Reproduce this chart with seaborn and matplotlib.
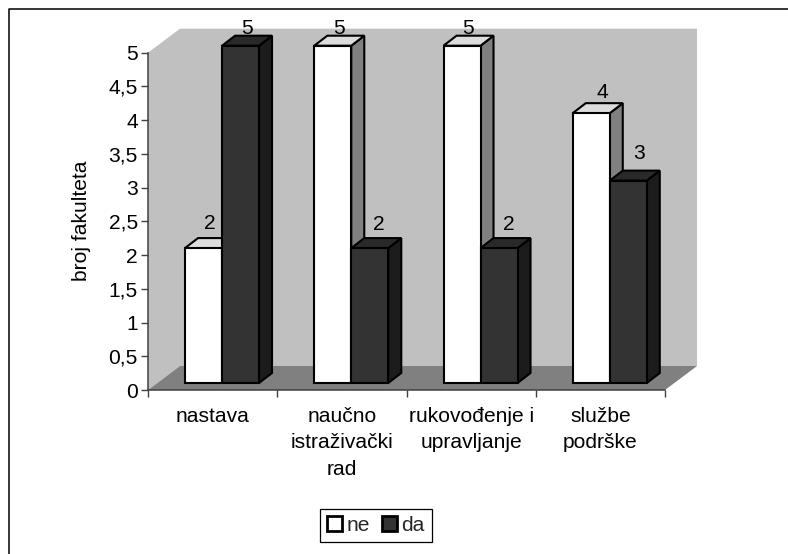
import matplotlib
matplotlib.use("Agg")
import matplotlib.pyplot as plt
import pandas as pd
import seaborn as sns
from matplotlib.lines import Line2D
from matplotlib.patches import Polygon
from matplotlib.transforms import Affine2D

categories = ["nastava", "naučno\nistraživački\nrad", "rukovođenje i\nupravljanje", "službe\npodrške"]
ne_values = [2, 5, 5, 4]
da_values = [5, 2, 2, 3]
series_names = ["ne", "da"]
y_ticks = [0, 0.5, 1, 1.5, 2, 2.5, 3, 3.5, 4, 4.5, 5]
y_tick_labels = ["0", "0,5", "1", "1,5", "2", "2,5", "3", "3,5", "4", "4,5", "5"]

df = pd.DataFrame({
    "kategorija": categories * 2,
    "broj": ne_values + da_values,
    "odgovor": ["ne"] * 4 + ["da"] * 4,
})

sns.set_theme(style="white")
plt.rcParams["font.family"] = ["Liberation Sans", "DejaVu Sans"]
FS = 15.1

W, H = 788, 554
fig = plt.figure(figsize=(W / 100, H / 100), dpi=100, facecolor="white")
ax = fig.add_axes([148 / W, (H - 390) / H, 517 / W, 337.3 / H])
ax.patch.set_visible(False)

face = {"ne": "#FFFFFF", "da": "#333333"}
side = {"ne": "#808080", "da": "#1C1C1C"}
top = {"ne": "#DDDDDD", "da": "#292929"}

sns.barplot(data=df, x="kategorija", y="broj", hue="odgovor", hue_order=series_names,
            order=categories, palette=face, width=0.5725, gap=0, dodge=True,
            saturation=1, edgecolor="black", linewidth=1.5, ax=ax, legend=True)
handles, labels = ax.get_legend_handles_labels()
ax.get_legend().remove()

ax.set_xlim(-0.5, 3.5)
ax.set_ylim(0, 5)
px = 1 / (517 / 4)
py = 5 / 337.3

# walls and floor of the 3D box
bx, by = 32 * px, 24 * py
ax.add_patch(Polygon([(-0.5, 0), (-0.5 + bx, by), (-0.5 + bx, 5 + by), (3.5 + bx, 5 + by), (3.5 + bx, by),
                      (-0.5 + bx, by)], closed=True, fc="#C0C0C0", ec="none", zorder=0.5, clip_on=False))
ax.add_patch(Polygon([(-0.5, 0), (-0.5, 5), (-0.5 + bx, 5 + by), (-0.5 + bx, by)], closed=True,
                     fc="#C0C0C0", ec="none", zorder=0.5, clip_on=False))
ax.add_patch(Polygon([(-0.5, 0), (-0.5 + bx, by), (3.5 + bx, by), (3.5, 0)], closed=True,
                     fc="#808080", ec="none", zorder=0.6, clip_on=False))

# bars moved into the box, with top and side faces
sx, sy = 9.4 * px, 7 * py
dx, dy = 13 * px, 10 * py
lift = {"ne": [9, 2, 2, 5], "da": [2, 8, 8, 12]}
nudge = {"ne": [-0.7, 0, 0, 4.5], "da": [0, 3, 3, 4.5]}
shift = Affine2D().translate(sx, sy) + ax.transData
z = 1.0
for cat in range(4):
    for s, cont in enumerate(ax.containers[:2]):
        name = series_names[s]
        bar = cont[cat]
        x0, w, h = bar.get_x(), bar.get_width(), bar.get_height()
        x1 = x0 + w
        bar.set_transform(shift)
        bar.set_clip_on(False)
        bar.set_joinstyle("miter")
        ax.add_patch(Polygon([(x1, 0), (x1 + dx, dy), (x1 + dx, h + dy), (x1, h)], closed=True, transform=shift,
                             fc=side[name], ec="black", lw=1.5, zorder=z, clip_on=False))
        ax.add_patch(Polygon([(x0, h), (x0 + dx, h + dy), (x1 + dx, h + dy), (x1, h)], closed=True, transform=shift,
                             fc=top[name], ec="black", lw=1.5, zorder=z, clip_on=False))
        bar.set_zorder(z + 0.1)
        ax.text(x0 + w / 2 + dx / 2 + nudge[name][cat] * px, h + dy + lift[name][cat] * py, f"{h:g}", transform=shift,
                ha="center", va="baseline", fontsize=FS, color="black", zorder=20, clip_on=False)
        z += 0.2

# axes
for sp in ("top", "right"):
    ax.spines[sp].set_visible(False)
for sp in ("left", "bottom"):
    ax.spines[sp].set_color("#404040")
    ax.spines[sp].set_linewidth(1.1)
    ax.spines[sp].set_zorder(30)
ax.set_yticks(y_ticks, y_tick_labels)
ax.set_xticks([-0.5, 0.5, 1.5, 2.5, 3.5], [""] * 5)
ax.set_xticks([0, 1, 2, 3], categories, minor=True)
ax.tick_params(axis="y", which="major", left=True, length=7 * 0.72, width=1, color="#404040",
               labelsize=FS, labelcolor="black", pad=2.2)
ax.tick_params(axis="x", which="major", bottom=True, length=7 * 0.72, width=1, color="#404040")
ax.tick_params(axis="x", which="minor", bottom=False, length=0, labelsize=FS, labelcolor="black", pad=12.2)
for t in ax.get_xticklabels(minor=True):
    t.set_linespacing(1.5)
ax.set_xlabel("")
ax.set_ylabel("broj fakulteta", fontsize=FS, color="black")
ax.yaxis.set_label_coords((91 - 148) / 517, 0.5 + (221.3 - 221) / 337.3)

# chart frame
fig.add_artist(Line2D([8.5 / W, 8.5 / W, 1], [0, (H - 9.3) / H, (H - 9.3) / H],
                      transform=fig.transFigure, color="black", lw=1.1))

for handle in handles:
    handle.set_linewidth(2)
leg = fig.legend(handles, labels, loc="center", bbox_to_anchor=(376 / W, (H - 525.6) / H), ncol=2,
                 fontsize=FS, frameon=True, fancybox=False, edgecolor="black", framealpha=1,
                 handlelength=0.7, handleheight=0.7, handletextpad=0.2, columnspacing=0.6,
                 borderpad=0.35, borderaxespad=0)
leg.get_frame().set_linewidth(0.9)

fig.savefig("out.png", dpi=100)
